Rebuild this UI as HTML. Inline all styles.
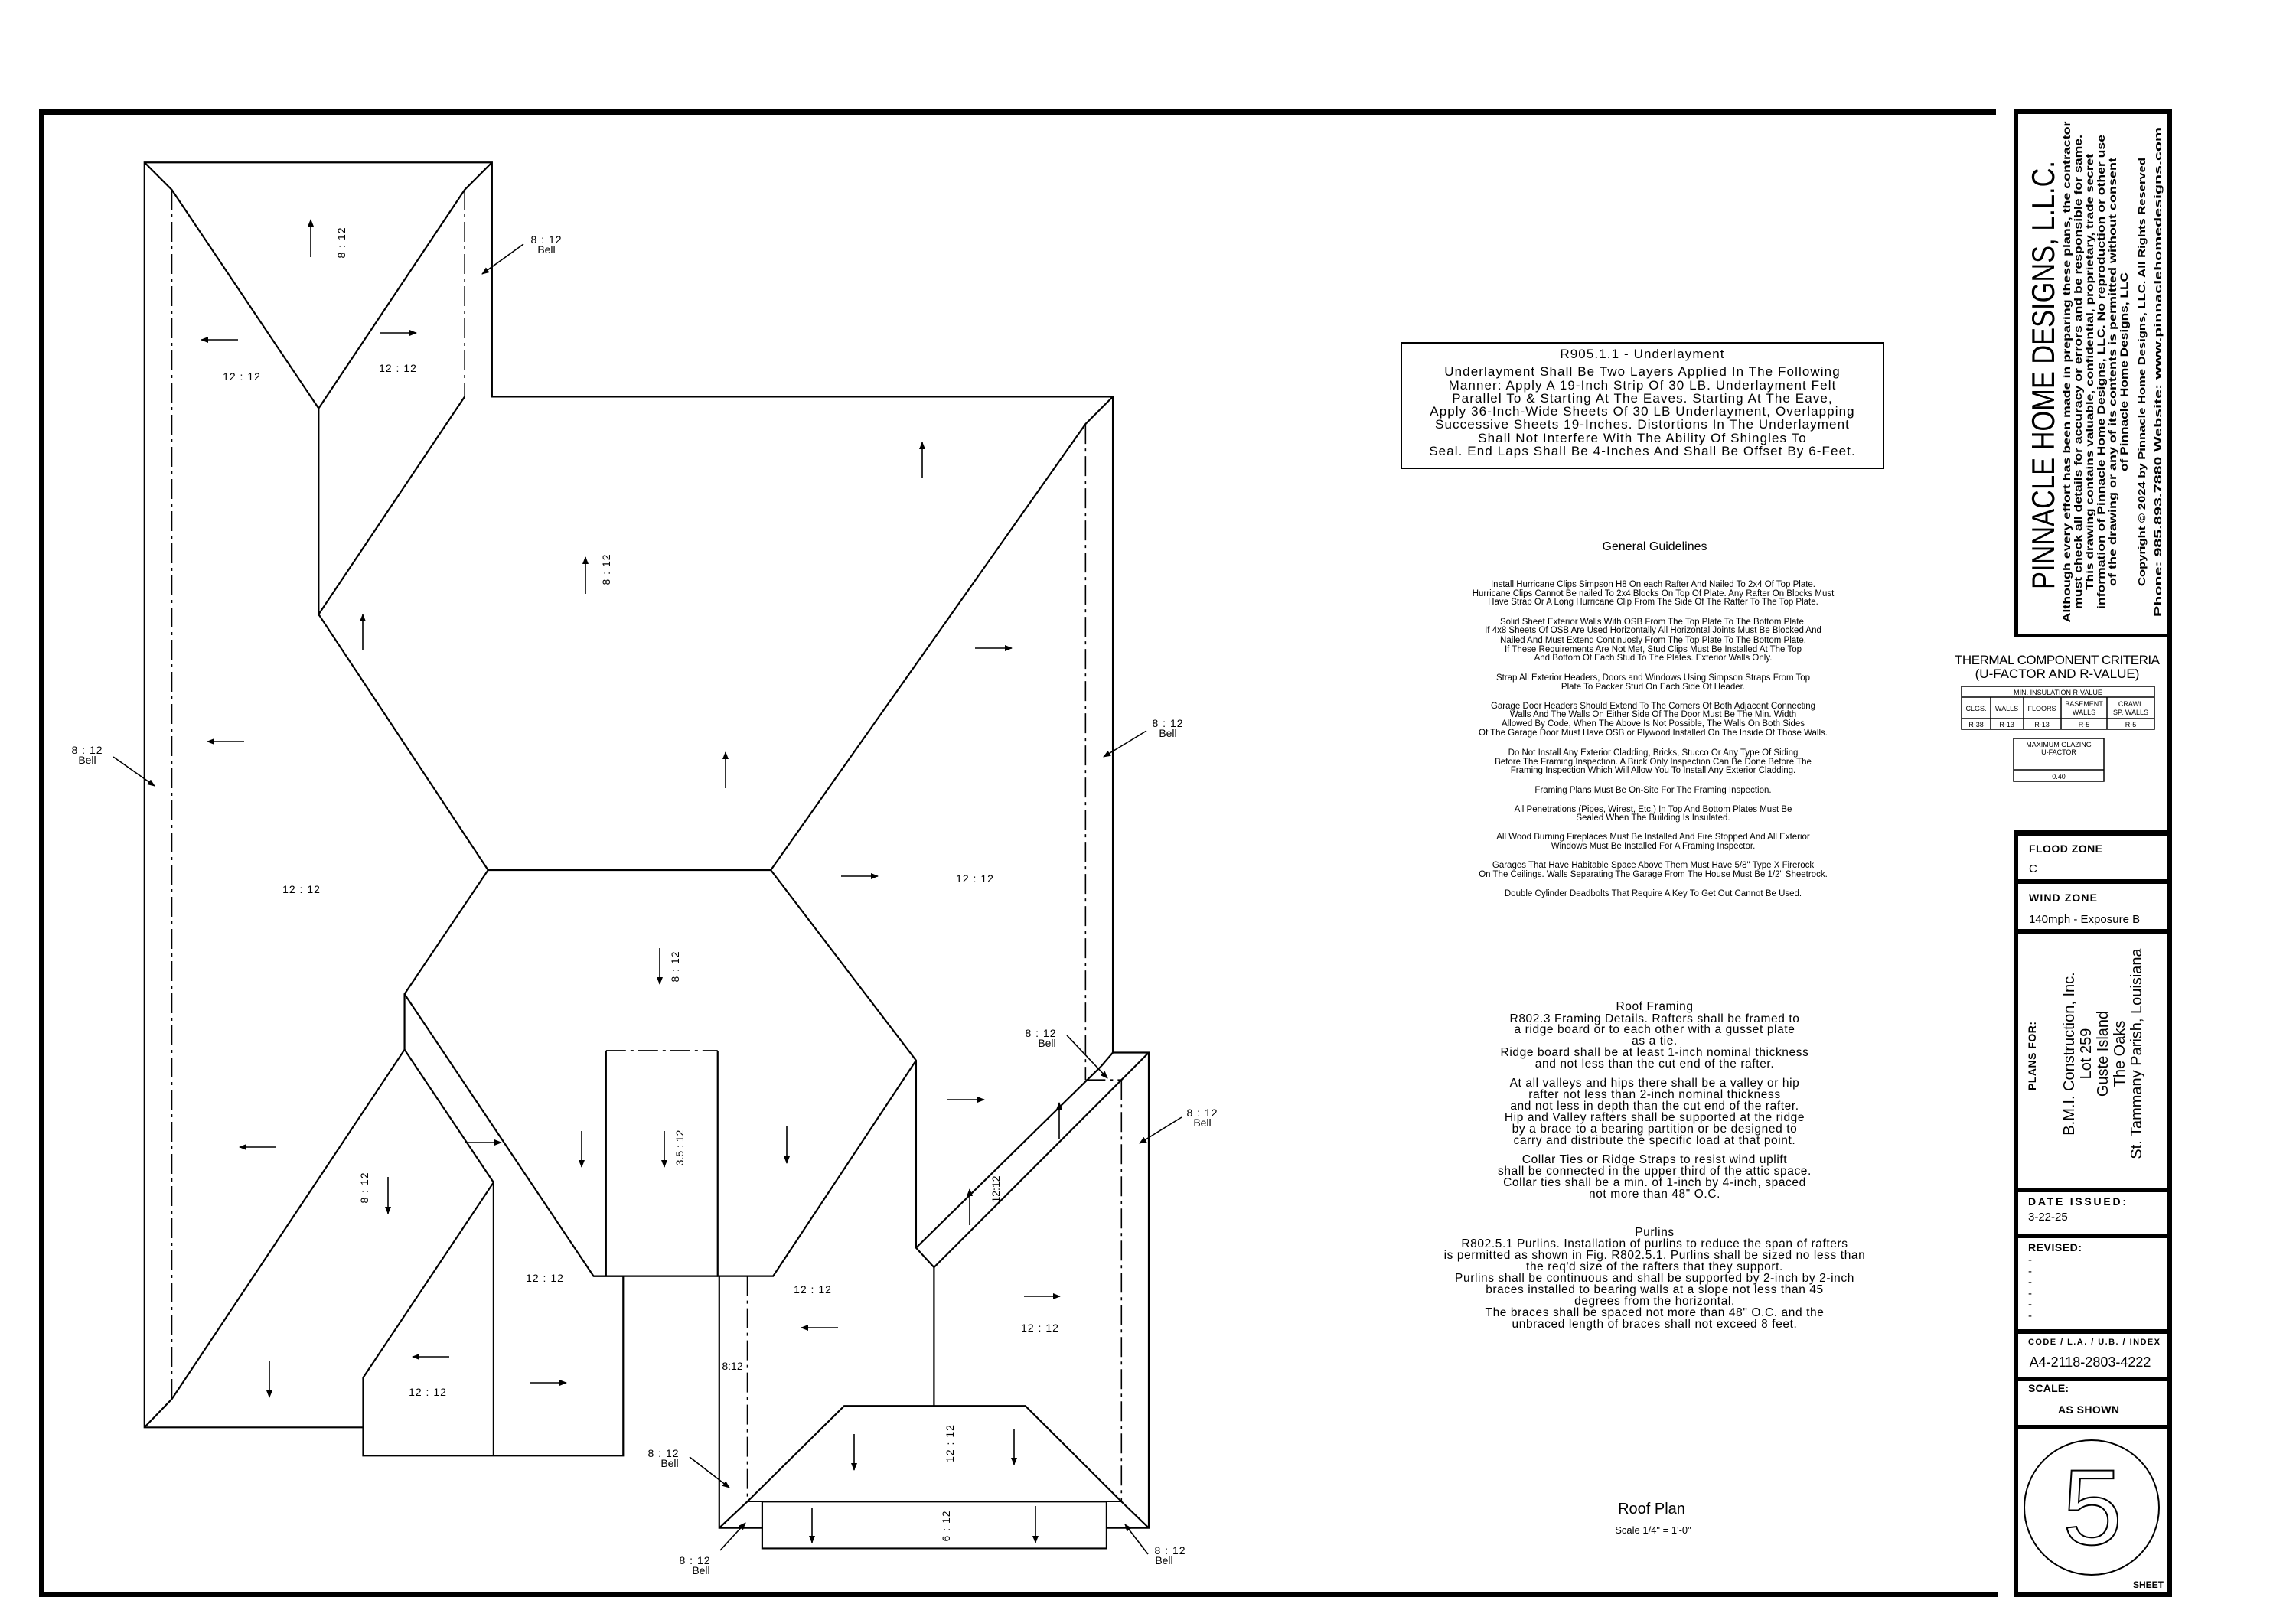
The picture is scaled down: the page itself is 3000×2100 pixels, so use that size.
<!DOCTYPE html>
<html><head><meta charset="utf-8"><style>
html,body{margin:0;padding:0;background:#fff}
svg{display:block}
text{font-family:"Liberation Sans",sans-serif;fill:#000}
.r{font-size:14px;letter-spacing:1px}
.n{font-size:11.5px}
.u{font-size:17px;letter-spacing:1.1px}
.f{font-size:15.5px;letter-spacing:0.6px}
.b{font-family:"Liberation Serif",serif;font-weight:bold}
</style></head><body>
<svg width="3000" height="2100" viewBox="0 0 3000 2100" xmlns="http://www.w3.org/2000/svg">
<defs>
<marker id="ah" markerWidth="10" markerHeight="8" refX="9" refY="4" orient="auto" markerUnits="userSpaceOnUse">
<path d="M0,0 L10,4 L0,8 Z" fill="#000"/></marker>
</defs>
<rect x="51" y="143" width="2557" height="7" fill="#000"/>
<rect x="51" y="143" width="7" height="1944" fill="#000"/>
<rect x="51" y="2080" width="2559" height="7" fill="#000"/>

<g transform="translate(0,100) scale(1.0204,1.2755)" fill="none" stroke="#000" stroke-width="2.2">
<polyline vector-effect="non-scaling-stroke" points="465,1384 185,1384 185,88 630,88 630,328 1425,328 1425,1000 1471,1000 1471,1487 1417,1487"/>
<polyline vector-effect="non-scaling-stroke" points="185,88 220,116 408,340 595,116 630,88"/>
<polyline vector-effect="non-scaling-stroke" points="408,340 408,551 595,328"/>
<polyline vector-effect="non-scaling-stroke" points="1425,328 1390,356 987,813 625,813 408,551"/>
<polyline vector-effect="non-scaling-stroke" points="625,813 518,940 518,997 220,1355 185,1384"/>
<polyline vector-effect="non-scaling-stroke" points="518,940 760,1229 798,1229 798,1413 465,1413 465,1333 632,1133 632,1413"/>
<polyline vector-effect="non-scaling-stroke" points="518,997 632,1133"/>
<polyline vector-effect="non-scaling-stroke" points="987,813 1173,1008 1173,1200 1196,1220 1196,1362"/>
<polyline vector-effect="non-scaling-stroke" points="776,1229 776,998"/>
<polyline vector-effect="non-scaling-stroke" points="919,998 919,1229 990,1229 1173,1008"/>
<polyline vector-effect="non-scaling-stroke" points="760,1229 919,1229"/>
<polyline vector-effect="non-scaling-stroke" points="976,1487 921,1487 921,1229"/>
<polyline vector-effect="non-scaling-stroke" points="1173,1200 1410,1014"/>
<polyline vector-effect="non-scaling-stroke" points="1196,1220 1436,1028 1471,1000"/>
<polyline vector-effect="non-scaling-stroke" points="921,1487 957,1460 1081,1362 1313,1362 1436,1460 1471,1487"/>
<rect vector-effect="non-scaling-stroke" x="976" y="1460" width="441" height="48"/>
<polyline vector-effect="non-scaling-stroke" points="1425,1000 1410,1014"/>
<g stroke-width="1.6" stroke-dasharray="26 6 4 6">
<line vector-effect="non-scaling-stroke" x1="220" y1="116" x2="220" y2="1355"/>
<line vector-effect="non-scaling-stroke" x1="595" y1="116" x2="595" y2="328"/>
<line vector-effect="non-scaling-stroke" x1="1390" y1="356" x2="1390" y2="1028"/>
<line vector-effect="non-scaling-stroke" x1="1390" y1="1028" x2="1436" y2="1028"/>
<line vector-effect="non-scaling-stroke" x1="1436" y1="1028" x2="1436" y2="1460"/>
<line vector-effect="non-scaling-stroke" x1="957" y1="1229" x2="957" y2="1460"/>
<line vector-effect="non-scaling-stroke" x1="957" y1="1460" x2="1436" y2="1460"/>
<line vector-effect="non-scaling-stroke" x1="776" y1="998" x2="919" y2="998"/>
</g>
</g>

<g stroke="#000" stroke-width="1.6" marker-end="url(#ah)">
<line x1="406" y1="336" x2="406" y2="287"/><line x1="311" y1="444" x2="263" y2="444"/>
<line x1="496" y1="435" x2="544" y2="435"/><line x1="1205" y1="625" x2="1205" y2="578"/>
<line x1="765" y1="776" x2="765" y2="728"/><line x1="474" y1="850" x2="474" y2="803"/>
<line x1="948" y1="1030" x2="948" y2="983"/><line x1="1274" y1="847" x2="1322" y2="847"/>
<line x1="319" y1="969" x2="271" y2="969"/><line x1="1099" y1="1145" x2="1147" y2="1145"/>
<line x1="862" y1="1239" x2="862" y2="1286"/><line x1="1238" y1="1437" x2="1286" y2="1437"/>
<line x1="361" y1="1499" x2="313" y2="1499"/><line x1="608" y1="1493" x2="655" y2="1493"/>
<line x1="760" y1="1478" x2="760" y2="1525"/><line x1="868" y1="1478" x2="868" y2="1525"/>
<line x1="1028" y1="1472" x2="1028" y2="1520"/><line x1="1384" y1="1488" x2="1384" y2="1441"/>
<line x1="1267" y1="1601" x2="1267" y2="1554"/><line x1="507" y1="1538" x2="507" y2="1586"/>
<line x1="1095" y1="1735" x2="1047" y2="1735"/><line x1="1338" y1="1694" x2="1385" y2="1694"/>
<line x1="587" y1="1773" x2="539" y2="1773"/><line x1="692" y1="1807" x2="740" y2="1807"/>
<line x1="352" y1="1779" x2="352" y2="1826"/><line x1="1116" y1="1874" x2="1116" y2="1921"/>
<line x1="1325" y1="1868" x2="1325" y2="1914"/><line x1="1061" y1="1970" x2="1061" y2="2016"/>
<line x1="1353" y1="1968" x2="1353" y2="2016"/>
<line x1="684" y1="319" x2="630" y2="358"/><line x1="148" y1="989" x2="202" y2="1027"/>
<line x1="1498" y1="955" x2="1442" y2="989"/><line x1="1394" y1="1353" x2="1447" y2="1409"/>
<line x1="1544" y1="1460" x2="1489" y2="1494"/><line x1="901" y1="1904" x2="953" y2="1944"/>
<line x1="941" y1="2026" x2="974" y2="1990"/><line x1="1500" y1="2031" x2="1470" y2="1992"/>
</g>

<g class="r" text-anchor="middle">
<text x="316" y="497">12 : 12</text><text x="520" y="486">12 : 12</text>
<text x="394" y="1167">12 : 12</text><text x="1274" y="1153">12 : 12</text>
<text x="712" y="1675">12 : 12</text><text x="1062" y="1690">12 : 12</text>
<text x="1359" y="1740">12 : 12</text><text x="559" y="1824">12 : 12</text>
<text x="957" y="1790" style="letter-spacing:0">8:12</text>
<text transform="translate(451,317) rotate(-90)">8 : 12</text>
<text transform="translate(797,744) rotate(-90)">8 : 12</text>
<text transform="translate(887,1263) rotate(-90)">8 : 12</text>
<text transform="translate(893,1500) rotate(-90)" style="letter-spacing:0">3.5 : 12</text>
<text transform="translate(1306,1554) rotate(-90)" style="letter-spacing:0">12:12</text>
<text transform="translate(481,1552) rotate(-90)">8 : 12</text>
<text transform="translate(1246,1886) rotate(-90)">12 : 12</text>
<text transform="translate(1241,1994) rotate(-90)">6 : 12</text>
</g>
<g class="r" text-anchor="middle">
<text x="714" y="318">8 : 12</text><text x="714" y="331" style="letter-spacing:0">Bell</text>
<text x="114" y="985">8 : 12</text><text x="114" y="998" style="letter-spacing:0">Bell</text>
<text x="1526" y="950">8 : 12</text><text x="1526" y="963" style="letter-spacing:0">Bell</text>
<text x="1360" y="1355">8 : 12</text><text x="1368" y="1368" style="letter-spacing:0">Bell</text>
<text x="1571" y="1459">8 : 12</text><text x="1571" y="1472" style="letter-spacing:0">Bell</text>
<text x="867" y="1904">8 : 12</text><text x="875" y="1917" style="letter-spacing:0">Bell</text>
<text x="908" y="2044">8 : 12</text><text x="916" y="2057" style="letter-spacing:0">Bell</text>
<text x="1529" y="2031">8 : 12</text><text x="1521" y="2044" style="letter-spacing:0">Bell</text>
</g>

<rect x="1831" y="448" width="630" height="164" fill="none" stroke="#000" stroke-width="2"/>
<g class="u" text-anchor="middle">
<text x="2146" y="468">R905.1.1 - Underlayment</text>
<text x="2146" y="491">Underlayment Shall Be Two Layers Applied In The Following</text>
<text x="2146" y="509">Manner: Apply A 19-Inch Strip Of 30 LB. Underlayment Felt</text>
<text x="2146" y="526">Parallel To &amp; Starting At The Eaves.  Starting At The Eave,</text>
<text x="2146" y="543">Apply 36-Inch-Wide Sheets Of 30 LB Underlayment, Overlapping</text>
<text x="2146" y="560">Successive Sheets 19-Inches.  Distortions In The Underlayment</text>
<text x="2146" y="578">Shall Not Interfere With The Ability Of Shingles To</text>
<text x="2146" y="595">Seal.  End Laps Shall Be 4-Inches And Shall Be Offset By 6-Feet.</text>
</g>
<text x="2162" y="719" text-anchor="middle" style="font-size:16px">General Guidelines</text>
<g class="n" text-anchor="middle">
<text x="2160" y="767">Install Hurricane Clips Simpson H8 On each Rafter And Nailed To 2x4 Of Top Plate.</text>
<text x="2160" y="779">Hurricane Clips Cannot Be nailed To 2x4 Blocks On Top Of Plate. Any Rafter On Blocks Must</text>
<text x="2160" y="790">Have Strap Or A Long Hurricane Clip From The Side Of The Rafter To The Top Plate.</text>
<text x="2160" y="816">Solid Sheet Exterior Walls With OSB From The Top Plate To The Bottom Plate.</text>
<text x="2160" y="827">If 4x8 Sheets Of OSB Are Used Horizontally All Horizontal Joints Must Be Blocked And</text>
<text x="2160" y="840">Nailed And Must Extend Continuosly From The Top Plate To The Bottom Plate.</text>
<text x="2160" y="852">If These Requirements Are Not Met, Stud Clips Must Be Installed At The Top</text>
<text x="2160" y="863">And Bottom Of Each Stud To The Plates. Exterior Walls Only.</text>
<text x="2160" y="889">Strap All Exterior Headers, Doors and Windows Using Simpson Straps From Top</text>
<text x="2160" y="901">Plate To Packer Stud On Each Side Of Header.</text>
<text x="2160" y="926">Garage Door Headers Should Extend To The Corners Of Both Adjacent Connecting</text>
<text x="2160" y="937">Walls And The Walls On Either Side Of The Door Must Be The Min. Width</text>
<text x="2160" y="949">Allowed By Code, When The Above Is Not Possible, The Walls On Both Sides</text>
<text x="2160" y="961">Of The Garage Door Must Have OSB or Plywood Installed On The Inside Of Those Walls.</text>
<text x="2160" y="987">Do Not Install Any Exterior Cladding, Bricks, Stucco Or Any Type Of Siding</text>
<text x="2160" y="999">Before The Framing Inspection. A Brick Only Inspection Can Be Done Before The</text>
<text x="2160" y="1010">Framing Inspection Which Will Allow You To Install Any Exterior Cladding.</text>
<text x="2160" y="1036">Framing Plans Must Be On-Site For The Framing Inspection.</text>
<text x="2160" y="1061">All Penetrations (Pipes, Wirest, Etc.) In Top And Bottom Plates Must Be</text>
<text x="2160" y="1072">Sealed When The Building Is Insulated.</text>
<text x="2160" y="1097">All Wood Burning Fireplaces Must Be Installed And Fire Stopped And All Exterior</text>
<text x="2160" y="1109">Windows Must Be Installed For A Framing Inspector.</text>
<text x="2160" y="1134">Garages That Have Habitable Space Above Them Must Have 5/8" Type X Firerock</text>
<text x="2160" y="1146">On The Ceilings. Walls Separating The Garage From The House Must Be 1/2" Sheetrock.</text>
<text x="2160" y="1171">Double Cylinder Deadbolts That Require A Key To Get Out Cannot Be Used.</text>
</g>
<g class="f" text-anchor="middle">
<text x="2162" y="1320">Roof Framing</text>
<text x="2162" y="1336">R802.3 Framing Details. Rafters shall be framed to</text>
<text x="2162" y="1350">a ridge board or to each other with a gusset plate</text>
<text x="2162" y="1365">as a tie.</text>
<text x="2162" y="1380">Ridge board shall be at least 1-inch nominal thickness</text>
<text x="2162" y="1395">and not less than the cut end of the rafter.</text>
<text x="2162" y="1420">At all valleys and hips there shall be a valley or hip</text>
<text x="2162" y="1435">rafter not less than 2-inch nominal thickness</text>
<text x="2162" y="1450">and not less in depth than the cut end of the rafter.</text>
<text x="2162" y="1465">Hip and Valley rafters shall be supported at the ridge</text>
<text x="2162" y="1480">by a brace to a bearing partition or be designed to</text>
<text x="2162" y="1495">carry and distribute the specific load at that point.</text>
<text x="2162" y="1520">Collar Ties or Ridge Straps to resist wind uplift</text>
<text x="2162" y="1535">shall be connected in the upper third of the attic space.</text>
<text x="2162" y="1550">Collar ties shall be a min. of 1-inch by 4-inch, spaced</text>
<text x="2162" y="1565">not more than 48" O.C.</text>
<text x="2162" y="1615">Purlins</text>
<text x="2162" y="1630">R802.5.1 Purlins. Installation of purlins to reduce the span of rafters</text>
<text x="2162" y="1645">is permitted as shown in Fig. R802.5.1. Purlins shall be sized no less than</text>
<text x="2162" y="1660">the req'd size of the rafters that they support.</text>
<text x="2162" y="1675">Purlins shall be continuous and shall be supported by 2-inch by 2-inch</text>
<text x="2162" y="1690">braces installed to bearing walls at a slope not less than 45</text>
<text x="2162" y="1705">degrees from the horizontal.</text>
<text x="2162" y="1720">The braces shall be spaced not more than 48" O.C. and the</text>
<text x="2162" y="1735">unbraced length of braces shall not exceed 8 feet.</text>
</g>
<text x="2158" y="1978" text-anchor="middle" style="font-size:20px">Roof Plan</text>
<text x="2160" y="2004" text-anchor="middle" style="font-size:13px">Scale 1/4" = 1'-0"</text>

<g text-anchor="middle">
<text x="2688" y="868" style="font-size:17px" textLength="268">THERMAL COMPONENT CRITERIA</text>
<text x="2688" y="886" style="font-size:17px">(U-FACTOR AND R-VALUE)</text>
<g fill="none" stroke="#000" stroke-width="1.5">
<rect x="2563" y="897" width="252" height="56"/>
<line x1="2563" y1="911" x2="2815" y2="911"/><line x1="2563" y1="939" x2="2815" y2="939"/>
<line x1="2601" y1="911" x2="2601" y2="953"/><line x1="2644" y1="911" x2="2644" y2="953"/>
<line x1="2693" y1="911" x2="2693" y2="953"/><line x1="2753" y1="911" x2="2753" y2="953"/>
<rect x="2631" y="965" width="118" height="56"/><line x1="2631" y1="1006" x2="2749" y2="1006"/>
</g>
<g style="font-size:9px">
<text x="2689" y="908">MIN. INSULATION R-VALUE</text>
<text x="2582" y="929">CLGS.</text><text x="2622" y="929">WALLS</text><text x="2668" y="929">FLOORS</text>
<text x="2723" y="923">BASEMENT</text><text x="2723" y="934">WALLS</text>
<text x="2784" y="923">CRAWL</text><text x="2784" y="934">SP. WALLS</text>
<text x="2582" y="950">R-38</text><text x="2622" y="950">R-13</text><text x="2668" y="950">R-13</text>
<text x="2723" y="950">R-5</text><text x="2784" y="950">R-5</text>
<text x="2690" y="976">MAXIMUM GLAZING</text><text x="2690" y="986">U-FACTOR</text>
<text x="2690" y="1018">0.40</text>
</g>
</g>

<rect x="2831" y="143" width="7" height="1944" fill="#000"/>
<rect x="2632" y="143" width="206" height="6" fill="#000"/>
<rect x="2632" y="143" width="5" height="690" fill="#000"/>
<rect x="2632" y="828" width="206" height="5" fill="#000"/>
<rect x="2632" y="1085" width="5" height="1002" fill="#000"/>
<rect x="2632" y="1085" width="206" height="7" fill="#000"/>
<rect x="2632" y="1149" width="206" height="6" fill="#000"/>
<rect x="2632" y="1214" width="206" height="6" fill="#000"/>
<rect x="2632" y="1552" width="206" height="6" fill="#000"/>
<rect x="2632" y="1612" width="206" height="6" fill="#000"/>
<rect x="2632" y="1737" width="206" height="6" fill="#000"/>
<rect x="2632" y="1799" width="206" height="6" fill="#000"/>
<rect x="2632" y="1862" width="206" height="6" fill="#000"/>
<rect x="2632" y="2081" width="206" height="6" fill="#000"/>

<text transform="translate(2684,490) rotate(-90)" text-anchor="middle" style="font-size:42px" textLength="560" lengthAdjust="spacingAndGlyphs">PINNACLE HOME DESIGNS, L.L.C.</text>
<g class="b" text-anchor="middle" style="font-size:14px">
<text transform="translate(2705,486) rotate(-90)" textLength="655" lengthAdjust="spacingAndGlyphs">Although every effort has been made in preparing these plans, the contractor</text>
<text transform="translate(2720,486) rotate(-90)" textLength="620" lengthAdjust="spacingAndGlyphs">must check all details for accuracy or errors and be responsible for same.</text>
<text transform="translate(2735,486) rotate(-90)" textLength="570" lengthAdjust="spacingAndGlyphs">This drawing contains valuable, confidential, proprietary, trade secret</text>
<text transform="translate(2750,486) rotate(-90)" textLength="620" lengthAdjust="spacingAndGlyphs">information of Pinnacle Home Designs, LLC. No reproduction or other use</text>
<text transform="translate(2765,486) rotate(-90)" textLength="560" lengthAdjust="spacingAndGlyphs">of the drawing or any of its contents is permitted without consent</text>
<text transform="translate(2780,486) rotate(-90)" textLength="260" lengthAdjust="spacingAndGlyphs">of Pinnacle Home Designs, LLC</text>
<text transform="translate(2803,486) rotate(-90)" textLength="560" lengthAdjust="spacingAndGlyphs" style="font-size:13px">Copyright © 2024 by Pinnacle Home Designs, LLC.   All Rights Reserved</text>
<text transform="translate(2824,486) rotate(-90)" textLength="640" lengthAdjust="spacingAndGlyphs" style="font-size:13px">Phone: 985.893.7880 Website: www.pinnaclehomedesigns.com</text>
</g>

<g class="b" style="font-size:14px">
<text x="2651" y="1114" textLength="96">FLOOD ZONE</text>
<text x="2651" y="1178" textLength="89">WIND ZONE</text>
<text x="2650" y="1575" textLength="128">DATE ISSUED:</text>
<text x="2650" y="1635" textLength="70">REVISED:</text>
<text x="2650" y="1757" textLength="172" style="font-size:11px">CODE / L.A. / U.B. / INDEX</text>
<text x="2650" y="1819" textLength="53">SCALE:</text>
<text x="2689" y="1847" textLength="80">AS SHOWN</text>
<text x="2787" y="2075" textLength="40" style="font-size:12px">SHEET</text>
<text transform="translate(2660,1380) rotate(-90)" text-anchor="middle" textLength="90">PLANS FOR:</text>
</g>
<g style="font-size:15px">
<text x="2651" y="1140">C</text>
<text x="2651" y="1206">140mph - Exposure B</text>
<text x="2650" y="1595">3-22-25</text>
<text x="2650" y="1651">-</text><text x="2650" y="1666">-</text><text x="2650" y="1680">-</text>
<text x="2650" y="1695">-</text><text x="2650" y="1709">-</text><text x="2650" y="1724">-</text>
<text x="2731" y="1786" text-anchor="middle" style="font-size:18px">A4-2118-2803-4222</text>
</g>
<g text-anchor="middle" style="font-size:20px">
<text transform="translate(2710,1377) rotate(-90)">B.M.I. Construction, Inc.</text>
<text transform="translate(2732,1377) rotate(-90)">Lot 259</text>
<text transform="translate(2754,1377) rotate(-90)">Guste Island</text>
<text transform="translate(2776,1377) rotate(-90)">The Oaks</text>
<text transform="translate(2798,1377) rotate(-90)">St. Tammany Parish, Louisiana</text>
</g>
<ellipse cx="2733" cy="1970" rx="88" ry="88" fill="none" stroke="#000" stroke-width="2"/>
<text x="2734" y="2018" text-anchor="middle" style="font-size:140px;fill:none;stroke:#000;stroke-width:2">5</text>
</svg>
</body></html>
